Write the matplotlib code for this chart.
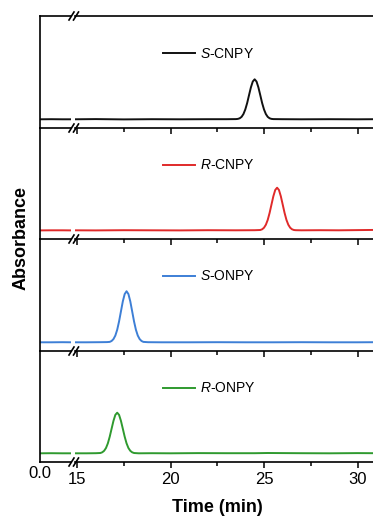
import matplotlib
matplotlib.use("Agg")
import matplotlib.pyplot as plt
from matplotlib.lines import Line2D

plt.rcParams['font.family'] = ['Liberation Sans', 'DejaVu Sans']
plt.rcParams['mathtext.fontset'] = 'custom'
plt.rcParams['mathtext.rm'] = 'Liberation Sans'
plt.rcParams['mathtext.it'] = 'Liberation Sans:italic'

# chromatogram traces (time in min, absorbance a.u.)
labels = [r"$\it{S}$-CNPY", r"$\it{R}$-CNPY", r"$\it{S}$-ONPY", r"$\it{R}$-ONPY"]
colors = ['#111111', '#e02a2a', '#3d7fd6', '#2f9a2f']

# part before the axis break
t_left = [0.0, 0.6, 1.2, 1.7]
a_left = [[0.002, 0.003, 0.002, 0.002],
          [0.001, 0.002, 0.002, 0.001],
          [0.002, 0.002, 0.003, 0.002],
          [0.002, 0.003, 0.002, 0.002]]

t_scnpy = [14.8, 16.0, 17.5, 19.0, 20.5, 22.0, 23.0, 23.5, 23.6, 23.7, 23.8, 23.9,
           24.0, 24.1, 24.2, 24.3, 24.4, 24.5, 24.6, 24.7, 24.8, 24.9, 25.0,
           25.1, 25.2, 25.3, 25.4, 25.5, 26.0, 27.0, 28.5, 30.0, 31.0]
a_scnpy = [0.002, 0.004, 0.001, 0.003, 0.002, 0.003, 0.003, 0.004, 0.006, 0.012, 0.026, 0.054,
           0.100, 0.164, 0.243, 0.320, 0.378, 0.400, 0.378, 0.320, 0.243, 0.164, 0.100,
           0.054, 0.026, 0.012, 0.006, 0.004, 0.003, 0.002, 0.003, 0.002, 0.003]

t_rcnpy = [14.8, 16.0, 17.5, 19.0, 20.5, 22.0, 23.5, 24.5, 24.8, 24.9, 25.0, 25.1,
           25.2, 25.3, 25.4, 25.5, 25.6, 25.7, 25.8, 25.9, 26.0, 26.1, 26.2,
           26.3, 26.4, 26.5, 26.6, 26.7, 27.0, 28.0, 29.0, 30.0, 31.0]
a_rcnpy = [0.002, 0.001, 0.003, 0.002, 0.001, 0.003, 0.002, 0.003, 0.005, 0.012, 0.028, 0.058,
           0.107, 0.177, 0.261, 0.344, 0.407, 0.430, 0.407, 0.344, 0.261, 0.177, 0.107,
           0.058, 0.028, 0.012, 0.005, 0.003, 0.002, 0.003, 0.002, 0.004, 0.006]

t_sonpy = [14.8, 15.5, 16.2, 16.6, 16.75, 16.85, 16.95, 17.05, 17.15, 17.25, 17.35, 17.45,
           17.55, 17.65, 17.75, 17.85, 17.95, 18.05, 18.15, 18.25, 18.35, 18.45, 18.55,
           18.8, 19.5, 21.0, 22.5, 24.0, 25.5, 27.0, 28.5, 30.0, 31.0]
a_sonpy = [0.002, 0.002, 0.003, 0.004, 0.006, 0.015, 0.034, 0.069, 0.127, 0.210, 0.310, 0.409,
           0.482, 0.510, 0.482, 0.409, 0.310, 0.210, 0.127, 0.069, 0.034, 0.015, 0.006,
           0.003, 0.002, 0.002, 0.003, 0.002, 0.002, 0.003, 0.002, 0.002, 0.003]

t_ronpy = [14.8, 15.5, 16.0, 16.25, 16.35, 16.45, 16.55, 16.65, 16.75, 16.85, 16.95, 17.05,
           17.15, 17.25, 17.35, 17.45, 17.55, 17.65, 17.75, 17.85, 17.95, 18.05, 18.3,
           19.0, 20.0, 21.5, 23.0, 24.5, 25.2, 27.0, 28.5, 30.0, 31.0]
a_ronpy = [0.002, 0.002, 0.003, 0.005, 0.012, 0.027, 0.055, 0.102, 0.169, 0.249, 0.328, 0.388,
           0.410, 0.388, 0.328, 0.249, 0.169, 0.102, 0.055, 0.027, 0.012, 0.005, 0.002,
           0.003, 0.002, 0.004, 0.003, 0.003, 0.005, 0.003, 0.002, 0.004, 0.003]

t_right = [t_scnpy, t_rcnpy, t_sonpy, t_ronpy]
a_right = [a_scnpy, a_rcnpy, a_sonpy, a_ronpy]

major_ticks = [15, 20, 25, 30]
minor_ticks = [17.5, 22.5, 27.5]

W, H = 373, 521
fig = plt.figure(figsize=(W / 100, H / 100), dpi=100)

rows_px = [16, 128, 239, 351, 462]   # horizontal spine positions, from the top
xl0, xl1 = 40, 71      # left part of the broken axis (px)
xr0 = 75               # right part starts here (px)
ppm = 18.7             # px per minute
right_lo = 15 - (77 - xr0) / ppm
right_hi = right_lo + (W - xr0) / ppm

for i in range(4):
    row_h = rows_px[i + 1] - rows_px[i]
    y0 = H - rows_px[i + 1]
    axl = fig.add_axes([xl0 / W, y0 / H, (xl1 - xl0) / W, row_h / H])
    axr = fig.add_axes([xr0 / W, y0 / H, (W - xr0) / W, row_h / H])

    axl.plot(t_left, a_left[i], color=colors[i], lw=1.4)
    axr.plot(t_right[i], a_right[i], color=colors[i], lw=1.4, label=labels[i])

    axl.set_xlim(0, (xl1 - xl0) / ppm)
    axr.set_xlim(right_lo, right_hi)
    for ax in (axl, axr):
        ax.patch.set_visible(False)
        ax.set_ylim(-0.085 * 111.5 / row_h, 1.03)
        ax.set_yticks([])
        for s in ax.spines.values():
            s.set_linewidth(1.2)
            s.set_color('black')
    axl.spines['right'].set_visible(False)
    axr.spines['left'].set_visible(False)
    axr.spines['right'].set_visible(False)
    if i > 0:
        axl.spines['top'].set_visible(False)
        axr.spines['top'].set_visible(False)

    axl.set_xticks([0])
    axl.set_xticklabels(['0.0'])
    axr.set_xticks(major_ticks)
    axr.set_xticks(minor_ticks, minor=True)
    for ax in (axl, axr):
        ax.tick_params(axis='x', which='major', direction='out', length=4, width=1.1,
                       labelsize=12, pad=3)
        ax.tick_params(axis='x', which='minor', direction='out', length=3, width=1.1)
    axl.tick_params(axis='x', which='major', length=0)
    if i < 3:
        axl.set_xticklabels([])
        axr.set_xticklabels([])

    # legend: line from x=163 px, centred ~37 px below panel top
    leg_x = (163 - xr0) / (W - xr0)
    leg_y = 1 - 37.5 / row_h
    axr.legend(loc='center left', bbox_to_anchor=(leg_x, leg_y), frameon=False,
               fontsize=10, borderpad=0, borderaxespad=0, handlelength=2.3,
               handletextpad=0.35)

# break marks on every horizontal spine
for yp in rows_px:
    yb = H - yp
    for xc in (71.5, 76.0):
        fig.add_artist(Line2D([(xc - 2.5) / W, (xc + 2.5) / W],
                              [(yb - 4) / H, (yb + 4) / H],
                              transform=fig.transFigure, color='black', lw=1.2))

fig.text(21 / W, 1 - 238 / H, 'Absorbance', rotation=90, ha='center', va='center',
         fontsize=13, fontweight='bold')
fig.text(217 / W, 1 - 507 / H, 'Time (min)', ha='center', va='center',
         fontsize=13, fontweight='bold')

fig.savefig('out.png', dpi=100)
